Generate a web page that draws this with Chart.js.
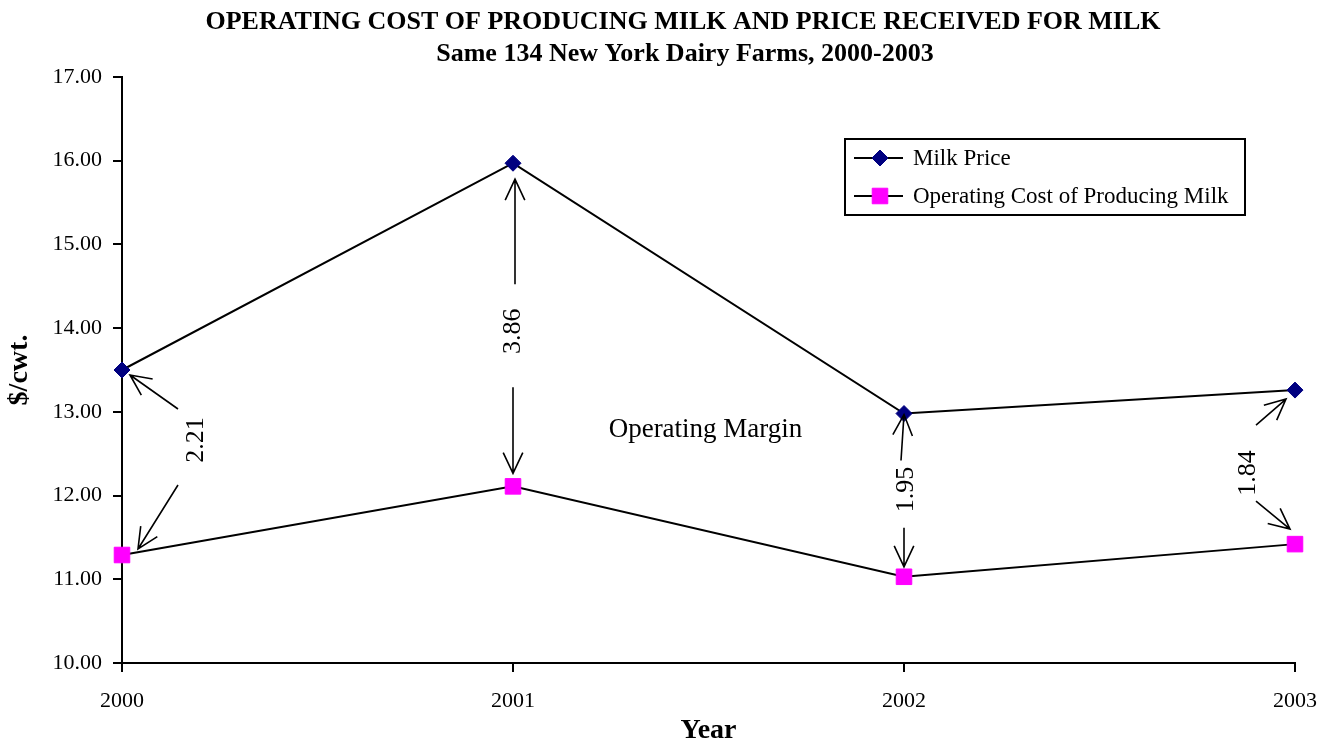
<!DOCTYPE html>
<html>
<head>
<meta charset="utf-8">
<script src="https://cdn.jsdelivr.net/npm/chart.js@4/dist/chart.umd.min.js"></script>
<style>
html, body { margin: 0; padding: 0; background: #fff; }
#wrap { width: 1327px; height: 740px; }
</style>
</head>
<body>
<div id="wrap"><canvas id="milk-chart"></canvas></div>
<script>
const years = ['2000', '2001', '2002', '2003'];
const milkPrice = [13.50, 15.97, 12.98, 13.26];
const operatingCost = [11.29, 12.11, 11.03, 11.42];
const marginLabels = ['2.21', '3.86', '1.95', '1.84'];
const yMin = 10;
const yMax = 17;

const titleLines = [
    'OPERATING COST OF PRODUCING MILK AND PRICE RECEIVED FOR MILK',
    'Same 134 New York Dairy Farms, 2000-2003'
];

const serif = '"Liberation Serif", "Times New Roman", serif';

// arrow offsets in px, relative to the milk point (up) / cost point (down)
// [tailX, tailY, tipX, tipY], text = [dx, dy from milk point]
const arrowLayout = [
    { up: [56, 39, 8, 5], down: [56, -70, 16, -6], text: [74, 70] },
    { up: [2, 121, 2, 16], down: [0, -99, 0, -13], text: [0, 168] },
    { up: [-3, 47, 0, 1], down: [0, -49, 0, -10], text: [2, 76] },
    { up: [-39, 35, -9, 9], down: [-39, -43, -5, -15], text: [-47, 83] }
];

function drawArrow(ctx, x1, y1, x2, y2) {
    const ang = Math.atan2(y2 - y1, x2 - x1);
    const len = 23, spread = 0.44;
    ctx.beginPath();
    ctx.moveTo(x1, y1);
    ctx.lineTo(x2, y2);
    ctx.moveTo(x2 - len * Math.cos(ang - spread), y2 - len * Math.sin(ang - spread));
    ctx.lineTo(x2, y2);
    ctx.lineTo(x2 - len * Math.cos(ang + spread), y2 - len * Math.sin(ang + spread));
    ctx.stroke();
}

const extrasPlugin = {
    id: 'extras',
    afterDraw(chart) {
        const ctx = chart.ctx;
        const xs = chart.scales.x;
        const ys = chart.scales.y;
        ctx.save();

        // title
        ctx.fillStyle = '#000';
        ctx.textAlign = 'center';
        ctx.textBaseline = 'middle';
        ctx.font = 'bold 26px ' + serif;
        ctx.fillText(titleLines[0], 683, 22);
        ctx.fillText(titleLines[1], 685, 54);

        // margin arrows + labels
        ctx.strokeStyle = '#000';
        ctx.lineWidth = 1.6;
        years.forEach((yr, i) => {
            const px = xs.getPixelForValue(i);
            const top = ys.getPixelForValue(milkPrice[i]);
            const bot = ys.getPixelForValue(operatingCost[i]);
            const a = arrowLayout[i];
            drawArrow(ctx, px + a.up[0], top + a.up[1], px + a.up[2], top + a.up[3]);
            drawArrow(ctx, px + a.down[0], bot + a.down[1], px + a.down[2], bot + a.down[3]);
            ctx.save();
            ctx.translate(px + a.text[0], top + a.text[1]);
            ctx.rotate(-Math.PI / 2);
            ctx.font = '26px ' + serif;
            ctx.fillText(marginLabels[i], 0, 0);
            ctx.restore();
        });

        // Operating Margin label
        ctx.font = '27px ' + serif;
        const mx = (xs.getPixelForValue(1) + xs.getPixelForValue(2)) / 2 - 3;
        ctx.fillText('Operating Margin', mx, ys.getPixelForValue(12.78));

        // legend
        const lx = 845, ly = 139, lw = 400, lh = 76;
        ctx.lineWidth = 2;
        ctx.strokeRect(lx, ly, lw, lh);
        chart.data.datasets.forEach((ds, i) => {
            const y = ly + 19 + i * 38;
            ctx.lineWidth = 2;
            ctx.strokeStyle = '#000';
            ctx.beginPath();
            ctx.moveTo(lx + 9, y);
            ctx.lineTo(lx + 58, y);
            ctx.stroke();
            ctx.fillStyle = ds.pointBackgroundColor;
            ctx.strokeStyle = ds.pointBorderColor;
            ctx.lineWidth = 1;
            Chart.helpers.drawPoint(ctx, {
                pointStyle: ds.pointStyle,
                radius: ds.pointRadius,
                rotation: 0,
                borderWidth: 1
            }, lx + 35, y);
            ctx.fillStyle = '#000';
            ctx.textAlign = 'left';
            ctx.font = '23px ' + serif;
            ctx.fillText(ds.label, lx + 68, y + 1);
        });
        ctx.restore();
    }
};

new Chart(document.getElementById('milk-chart').getContext('2d'), {
    type: 'line',
    data: {
        labels: years,
        datasets: [
            {
                label: 'Milk Price',
                data: milkPrice,
                borderColor: '#000',
                borderWidth: 2,
                pointStyle: 'rectRot',
                pointRadius: 8,
                pointBackgroundColor: '#000080',
                pointBorderColor: '#000080',
                pointBorderWidth: 1,
                tension: 0
            },
            {
                label: 'Operating Cost of Producing Milk',
                data: operatingCost,
                borderColor: '#000',
                borderWidth: 2,
                pointStyle: 'rect',
                pointRadius: 11,
                pointBackgroundColor: '#ff00ff',
                pointBorderColor: '#ff00ff',
                pointBorderWidth: 1,
                tension: 0
            }
        ]
    },
    options: {
        responsive: true,
        maintainAspectRatio: false,
        animation: false,
        layout: { padding: { top: 77, right: 32, bottom: 0, left: 0 } },
        plugins: {
            legend: { display: false },
            tooltip: { enabled: false }
        },
        scales: {
            x: {
                type: 'category',
                offset: false,
                afterFit: s => { s.height = 77; s.paddingLeft = 0; s.paddingRight = 0; },
                grid: { drawOnChartArea: false, drawTicks: true, tickLength: 9, color: '#000', lineWidth: 2 },
                border: { color: '#000', width: 2 },
                ticks: { color: '#000', padding: 16, maxRotation: 0, font: { family: serif, size: 22 } },
                title: {
                    display: true, text: 'Year', color: '#000',
                    padding: 0,
                    font: { family: serif, size: 28, weight: 'bold', lineHeight: 0.65 }
                }
            },
            y: {
                min: yMin,
                max: yMax,
                afterFit: s => { s.width = 122; },
                grid: { drawOnChartArea: false, drawTicks: true, tickLength: 9, color: '#000', lineWidth: 2 },
                border: { color: '#000', width: 2 },
                ticks: {
                    stepSize: 1, color: '#000', padding: 11,
                    font: { family: serif, size: 22 },
                    callback: v => v.toFixed(2)
                },
                title: {
                    display: true, text: '$/cwt.', color: '#000',
                    padding: { top: 3, bottom: 0 },
                    font: { family: serif, size: 28, weight: 'bold' }
                }
            }
        }
    },
    plugins: [extrasPlugin]
});
</script>
</body>
</html>
